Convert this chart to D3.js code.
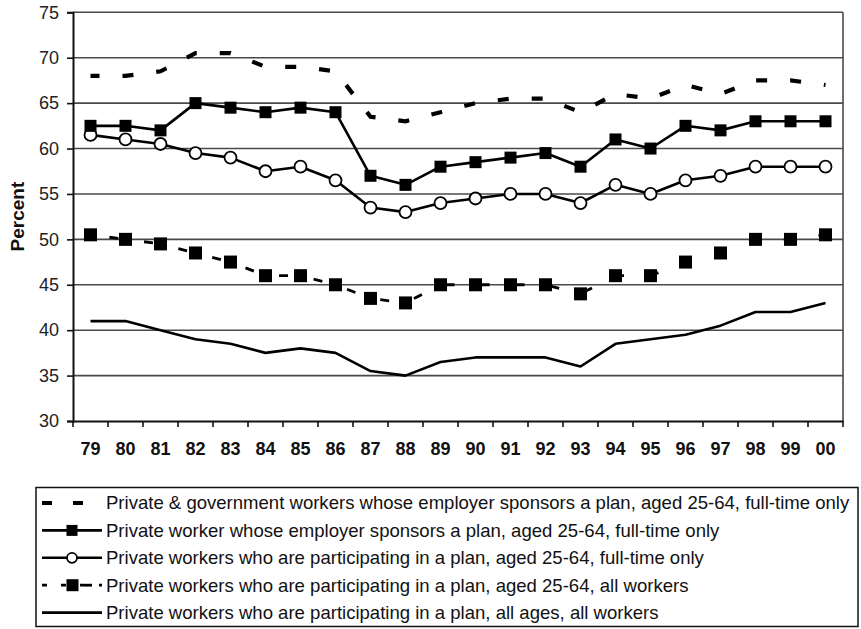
<!DOCTYPE html>
<html><head><meta charset="utf-8">
<script src="https://cdn.jsdelivr.net/npm/d3@7"></script>
<style>
html,body{margin:0;padding:0;background:#fff;}
svg{display:block;font-family:"Liberation Sans",Arial,Helvetica,sans-serif;}
</style></head>
<body>
<svg id="chart" width="861" height="629"></svg>
<script>
const years = ["79","80","81","82","83","84","85","86","87","88","89","90","91","92","93","94","95","96","97","98","99","00"];
const yTicks = [30,35,40,45,50,55,60,65,70,75];
const privGovSponsor =   [68,68,68.5,70.5,70.5,69,69,68.5,63.5,63,64,65,65.5,65.5,64,66,65.5,67,66,67.5,67.5,67];
const privSponsor =      [62.5,62.5,62,65,64.5,64,64.5,64,57,56,58,58.5,59,59.5,58,61,60,62.5,62,63,63,63];
const privPartFullTime = [61.5,61,60.5,59.5,59,57.5,58,56.5,53.5,53,54,54.5,55,55,54,56,55,56.5,57,58,58,58];
const privPartAll2564 =  [50.5,50,49.5,48.5,47.5,46,46,45,43.5,43,45,45,45,45,44,46,46,47.5,48.5,50,50,50.5];
const privPartAllAges =  [41,41,40,39,38.5,37.5,38,37.5,35.5,35,36.5,37,37,37,36,38.5,39,39.5,40.5,42,42,43];
const seriesNames = [
  "Private & government workers whose employer sponsors a plan, aged 25-64, full-time only",
  "Private worker whose employer sponsors a plan, aged 25-64, full-time only",
  "Private workers who are participating in a plan, aged 25-64, full-time only",
  "Private workers who are participating in a plan, aged 25-64, all workers",
  "Private workers who are participating in a plan, all ages, all workers"
];

const svg = d3.select("#chart");
const L = 73, R = 843, T = 12.3, B = 421;
const xb = d3.scaleBand().domain(years).range([L, R]).padding(0);
const xc = d => xb(d) + xb.bandwidth() / 2;
const y = d3.scaleLinear().domain([30, 75]).range([B, T]);

// gridlines
svg.append("g").selectAll("line").data(yTicks.filter(v => v > 30)).join("line")
  .attr("x1", L).attr("x2", R).attr("y1", d => y(d)).attr("y2", d => y(d))
  .attr("stroke", "#4a4a4a").attr("stroke-width", 1.6);
// right border
svg.append("line").attr("x1", R).attr("x2", R).attr("y1", T).attr("y2", B)
  .attr("stroke", "#4a4a4a").attr("stroke-width", 1.6);

// y axis
const ya = svg.append("g").attr("transform", `translate(${L},0)`)
  .call(d3.axisLeft(y).tickValues(yTicks).tickSize(6).tickPadding(8).tickFormat(d3.format("d")));
ya.select(".domain").attr("stroke", "#111").attr("stroke-width", 2);
ya.selectAll(".tick line").attr("stroke", "#111").attr("stroke-width", 1.6);
ya.selectAll("text").attr("font-size", 18).attr("fill", "#222")
  .attr("font-family", '"Liberation Sans",Arial,sans-serif');

// x axis
const xa = svg.append("g").attr("transform", `translate(0,${B})`)
  .call(d3.axisBottom(xb).tickSize(0).tickPadding(21));
xa.select(".domain").attr("stroke", "#111").attr("stroke-width", 2);
xa.selectAll("text").attr("font-size", 18).attr("font-weight", "bold").attr("fill", "#111")
  .attr("font-family", '"Liberation Sans",Arial,sans-serif');
const boundaries = years.map(d => xb(d)).concat([R]);
svg.append("g").selectAll("line").data(boundaries).join("line")
  .attr("x1", d => d).attr("x2", d => d).attr("y1", B).attr("y2", B + 6)
  .attr("stroke", "#111").attr("stroke-width", 1.6);

// y title
svg.append("text").attr("transform", `translate(17,${(T + B) / 2}) rotate(-90)`)
  .attr("text-anchor", "middle").attr("dominant-baseline", "central")
  .attr("font-size", 19).attr("font-weight", "bold").attr("fill", "#111").text("Percent");

const line = d3.line().x((d, i) => xc(years[i])).y(d => y(d));
const plot = svg.append("g");

// series 5: solid line
plot.append("path").datum(privPartAllAges).attr("d", line)
  .attr("fill", "none").attr("stroke", "#000").attr("stroke-width", 2.6).attr("stroke-linejoin", "round");

// series 4: dashed with squares
plot.append("path").datum(privPartAll2564).attr("d", line)
  .attr("fill", "none").attr("stroke", "#000").attr("stroke-width", 2.8)
  .attr("stroke-dasharray", "9,26").attr("stroke-dashoffset", 16);
plot.append("g").selectAll("rect").data(privPartAll2564).join("rect")
  .attr("x", (d, i) => xc(years[i]) - 6.5).attr("y", d => y(d) - 6.5)
  .attr("width", 13).attr("height", 13).attr("fill", "#000");

// series 3: open circles
plot.append("path").datum(privPartFullTime).attr("d", line)
  .attr("fill", "none").attr("stroke", "#000").attr("stroke-width", 2.6).attr("stroke-linejoin", "round");
plot.append("g").selectAll("circle").data(privPartFullTime).join("circle")
  .attr("cx", (d, i) => xc(years[i])).attr("cy", d => y(d)).attr("r", 6)
  .attr("fill", "#fff").attr("stroke", "#000").attr("stroke-width", 1.8);

// series 2: solid with filled squares
plot.append("path").datum(privSponsor).attr("d", line)
  .attr("fill", "none").attr("stroke", "#000").attr("stroke-width", 2.6).attr("stroke-linejoin", "round");
plot.append("g").selectAll("rect").data(privSponsor).join("rect")
  .attr("x", (d, i) => xc(years[i]) - 6).attr("y", d => y(d) - 6)
  .attr("width", 12).attr("height", 12).attr("fill", "#000");

// series 1: thick dashed
plot.append("path").datum(privGovSponsor).attr("d", line)
  .attr("fill", "none").attr("stroke", "#000").attr("stroke-width", 4.2)
  .attr("stroke-dasharray", "11,23").attr("stroke-dashoffset", 2);

// legend
const lg = svg.append("g");
lg.append("rect").attr("x", 36).attr("y", 487.5).attr("width", 822).attr("height", 139)
  .attr("fill", "none").attr("stroke", "#111").attr("stroke-width", 1.5);
const rowY = i => 503 + i * 27.4;
const sx0 = 42, sx1 = 102, sxm = 72;
// row 0
lg.append("line").attr("x1", sx0).attr("x2", sx1).attr("y1", rowY(0)).attr("y2", rowY(0))
  .attr("stroke", "#000").attr("stroke-width", 4.2).attr("stroke-dasharray", "10,21");
// row 1
lg.append("line").attr("x1", sx0).attr("x2", sx1).attr("y1", rowY(1)).attr("y2", rowY(1))
  .attr("stroke", "#000").attr("stroke-width", 2.6);
lg.append("rect").attr("x", sxm - 5.5).attr("y", rowY(1) - 5.5).attr("width", 11).attr("height", 11).attr("fill", "#000");
// row 2
lg.append("line").attr("x1", sx0).attr("x2", sx1).attr("y1", rowY(2)).attr("y2", rowY(2))
  .attr("stroke", "#000").attr("stroke-width", 2.6);
lg.append("circle").attr("cx", sxm).attr("cy", rowY(2)).attr("r", 5)
  .attr("fill", "#fff").attr("stroke", "#000").attr("stroke-width", 1.8);
// row 3
lg.append("line").attr("x1", sx0).attr("x2", sx1).attr("y1", rowY(3)).attr("y2", rowY(3))
  .attr("stroke", "#000").attr("stroke-width", 2.8).attr("stroke-dasharray", "5,14");
lg.append("line").attr("x1", 85).attr("x2", 92).attr("y1", rowY(3)).attr("y2", rowY(3))
  .attr("stroke", "#000").attr("stroke-width", 2.8);
lg.append("rect").attr("x", 66.5).attr("y", rowY(3) - 6).attr("width", 12).attr("height", 12).attr("fill", "#000");
// row 4
lg.append("line").attr("x1", sx0).attr("x2", sx1).attr("y1", rowY(4)).attr("y2", rowY(4))
  .attr("stroke", "#000").attr("stroke-width", 2.6);

const tg = lg.append("g");
const texts = tg.selectAll("text").data(seriesNames).join("text")
  .attr("x", 0).attr("y", (d, i) => rowY(i)).attr("dominant-baseline", "central")
  .attr("font-size", 18).attr("fill", "#111").text(d => d);
const w0 = texts.nodes()[0].getComputedTextLength();
const k = 744 / w0;
tg.attr("transform", `translate(106,0) scale(${k},1)`);
</script>
</body></html>
